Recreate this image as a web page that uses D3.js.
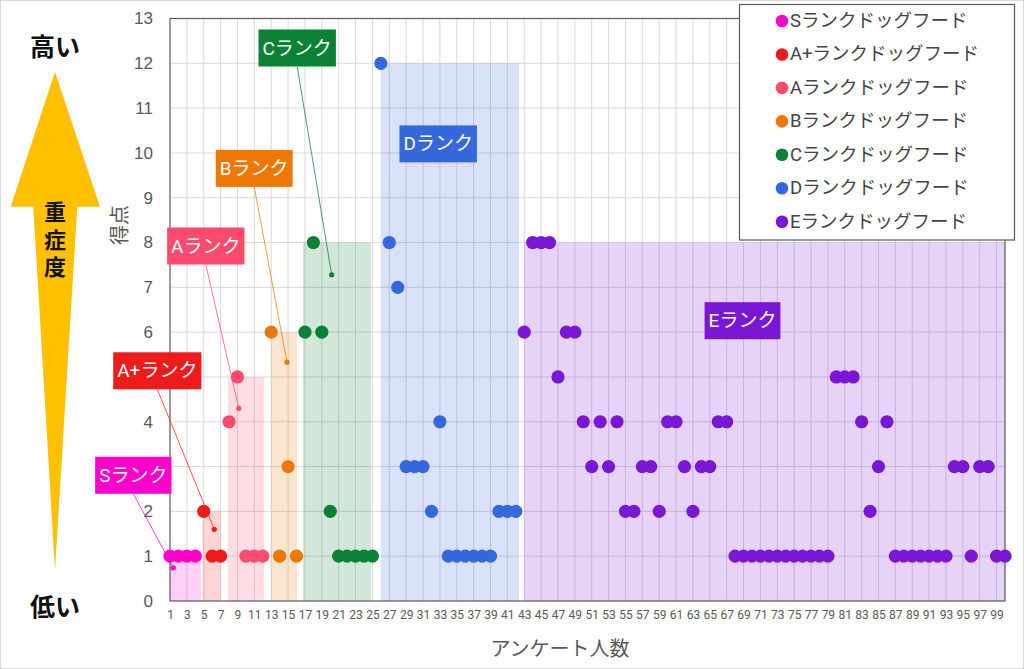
<!DOCTYPE html>
<html><head><meta charset="utf-8">
<script src="https://cdn.jsdelivr.net/npm/d3@7"></script>
<style>
html,body{margin:0;padding:0;background:#fff;}
svg{display:block;}
</style></head>
<body>
<svg id="c" width="1024" height="669"></svg>
<script>
// ---- data ----
const rankNames = ["S", "A+", "A", "B", "C", "D", "E"];
const legendLabels = ["Sランクドッグフード","A+ランクドッグフード","Aランクドッグフード","Bランクドッグフード","Cランクドッグフード","Dランクドッグフード","Eランクドッグフード"];
const rankColors = ["#FF00CC","#EE1B1B","#FF4A6E","#EE7700","#0B8136","#3567DD","#7A17D4"];
const rankStart = [1, 5, 8, 13, 17, 26, 43];
const sScores  = [1,1,1,1];
const apScores = [2,1,1];
const aScores  = [4,5,1,1,1];
const bScores  = [6,1,3,1];
const cScores  = [6,8,6,2,1,1,1,1,1];
const dScores  = [12,8,7,3,3,3,2,4,1,1,1,1,1,1,2,2,2];
const eScores  = [6,8,8,8,5,6,6,4,3,4,3,4,2,2,3,3,2,4,4,3,2,3,3,4,4,
                  1,1,1,1,1,1,1,1,1,1,1,1,
                  5,5,5,4,2,3,4,
                  1,1,1,1,1,1,1,
                  3,3,1,3,3,1,1];
const seriesScores = [sScores, apScores, aScores, bScores, cScores, dScores, eScores];
// shaded rank bands (x range in respondents, height in score)
const bandFrom = [1, 4.88, 7.88, 12.98, 16.77, 25.98, 42.97];
const bandTo   = [4.64, 7.0, 12.15, 16.06, 24.83, 42.38, 100];
const bandTop  = [1, 2, 5, 6, 8, 12, 8];
// rank call-out labels and the point each one points to (null = no pointer)
const calloutText = ["Sランク","A+ランク","Aランク","Bランク","Cランク","Dランク","Eランク"];
const calloutTargetX = [1.39, 6.25, 9.15, 14.87, 20.17, null, null];
const calloutTargetY = [0.74, 1.6, 4.3, 5.33, 7.28, null, null];
const xTicks = d3.range(1, 100, 2);
const yTicks = d3.range(0, 14, 1);

// ---- layout ----
const svg = d3.select("#c");
const L = 170, R = 1005, T = 18.5, B = 601;
const x = d3.scaleLinear().domain([1, 100]).range([L, R]);
const y = d3.scaleLinear().domain([0, 13]).range([B, T]);
const grey = "#595959";
const latin = "Roboto, 'Noto Sans CJK JP', sans-serif";
const jp = "'Noto Sans CJK JP', sans-serif";

// outer border
svg.append("rect").attr("x",0.5).attr("y",0.5).attr("width",1023).attr("height",668)
  .attr("fill","#fff").attr("stroke","#D9D9D9");

// gridlines
const g = svg.append("g");
g.selectAll("line.h").data(yTicks.filter(d=>d>0 && d<13)).join("line")
  .attr("x1",L).attr("x2",R).attr("y1",d=>y(d)).attr("y2",d=>y(d))
  .attr("stroke","#D9D9D9").attr("stroke-width",1);
g.selectAll("line.v").data(xTicks.filter(d=>d>1)).join("line")
  .attr("x1",d=>x(d)).attr("x2",d=>x(d)).attr("y1",T).attr("y2",B)
  .attr("stroke","#D9D9D9").attr("stroke-width",1);

// bands
svg.append("g").selectAll("rect").data(rankNames).join("rect")
  .attr("x",(d,i)=>x(bandFrom[i])).attr("width",(d,i)=>x(bandTo[i])-x(bandFrom[i]))
  .attr("y",(d,i)=>y(bandTop[i])).attr("height",(d,i)=>y(0)-y(bandTop[i]))
  .attr("fill",(d,i)=>rankColors[i]).attr("fill-opacity",0.19);

// plot border
svg.append("rect").attr("x",L).attr("y",T).attr("width",R-L).attr("height",B-T)
  .attr("fill","none").attr("stroke",grey).attr("stroke-width",1.2);

// y axis
const yAxis = svg.append("g").attr("transform",`translate(${L},0)`)
  .call(d3.axisLeft(y).tickValues(yTicks).tickSize(0).tickPadding(17).tickFormat(d3.format("d")));
yAxis.select(".domain").remove();
yAxis.selectAll("text").attr("font-family","'Liberation Sans', Arial, sans-serif").attr("font-size",17).attr("fill",grey);

// x axis
const xAxis = svg.append("g").attr("transform",`translate(0,${B})`)
  .call(d3.axisBottom(x).tickValues(xTicks).tickSize(0).tickPadding(9).tickFormat(d3.format("d")));
xAxis.select(".domain").remove();
xAxis.selectAll("text").attr("font-family",latin).attr("font-size",12).attr("fill",grey);

// axis titles
svg.append("text").attr("transform","translate(118,225) rotate(-90)")
  .attr("text-anchor","middle").attr("dominant-baseline","central")
  .attr("font-family",jp).attr("font-size",20).attr("fill",grey).text("得点");
svg.append("text").attr("x",560).attr("y",647)
  .attr("text-anchor","middle").attr("dominant-baseline","central")
  .attr("font-family",jp).attr("font-size",20).attr("fill",grey).text("アンケート人数");

// points
const pts = [];
seriesScores.forEach((arr,i)=>arr.forEach((v,j)=>pts.push({p: rankStart[i]+j, v, i})));
svg.append("g").selectAll("circle").data(pts).join("circle")
  .attr("cx",d=>x(d.p)).attr("cy",d=>y(d.v)).attr("r",6.6)
  .attr("fill",d=>rankColors[d.i]);

// callouts
const boxes = [
  {cx:133.3, cy:475.3}, {cx:157.3, cy:370.8}, {cx:205.8, cy:246}, {cx:254.2, cy:168.4},
  {cx:297.2, cy:48}, {cx:438.2, cy:143.9}, {cx:742.5, cy:320.7}
];
const cg = svg.append("g");
calloutText.forEach((t,i)=>{
  const b = boxes[i];
  if (calloutTargetX[i] !== null) {
    cg.append("line").attr("x1",b.cx).attr("y1",b.cy+18.5)
      .attr("x2",x(calloutTargetX[i])).attr("y2",y(calloutTargetY[i]))
      .attr("stroke",rankColors[i]).attr("stroke-opacity",0.75).attr("stroke-width",1);
    cg.append("circle").attr("cx",x(calloutTargetX[i])).attr("cy",y(calloutTargetY[i])).attr("r",2.6)
      .attr("fill",rankColors[i]);
  }
  const r = cg.append("rect").attr("fill",rankColors[i]);
  const tx = cg.append("text").attr("x",b.cx).attr("y",b.cy)
    .attr("text-anchor","middle").attr("dominant-baseline","central")
    .attr("font-family",latin).attr("font-size",19).attr("fill","#fff").text(t);
  const w = tx.node().getComputedTextLength() + 8;
  r.attr("x",b.cx-w/2).attr("y",b.cy-18.5).attr("width",w).attr("height",37);
});

// legend
const lg = svg.append("g");
lg.append("rect").attr("x",739.5).attr("y",4.5).attr("width",275).attr("height",235.5)
  .attr("fill","#fff").attr("stroke",grey).attr("stroke-width",1.2);
legendLabels.forEach((t,i)=>{
  const yy = 21 + i*33.45;
  lg.append("circle").attr("cx",782).attr("cy",yy).attr("r",6.3).attr("fill",rankColors[i]);
  lg.append("text").attr("x",790).attr("y",yy).attr("dominant-baseline","central")
    .attr("font-family",latin).attr("font-size",18.5).attr("fill","#444").text(t);
});

// severity arrow
svg.append("polygon")
  .attr("points","55,71.7 100,206.7 77.3,206.7 55,570 33.3,206.7 10.7,206.7")
  .attr("fill","#FFC000");
svg.append("text").attr("x",55).attr("y",45).attr("text-anchor","middle").attr("dominant-baseline","central")
  .attr("font-family",jp).attr("font-weight","bold").attr("font-size",25).attr("fill","#111").text("高い");
svg.append("text").attr("x",55).attr("y",605).attr("text-anchor","middle").attr("dominant-baseline","central")
  .attr("font-family",jp).attr("font-weight","bold").attr("font-size",25).attr("fill","#111").text("低い");
svg.append("text").attr("x",55).attr("y",201)
  .style("writing-mode","vertical-rl").style("text-orientation","upright")
  .attr("letter-spacing",5.5)
  .attr("font-family",jp).attr("font-weight","bold").attr("font-size",22).attr("fill","#111").text("重症度");
</script>
</body></html>
